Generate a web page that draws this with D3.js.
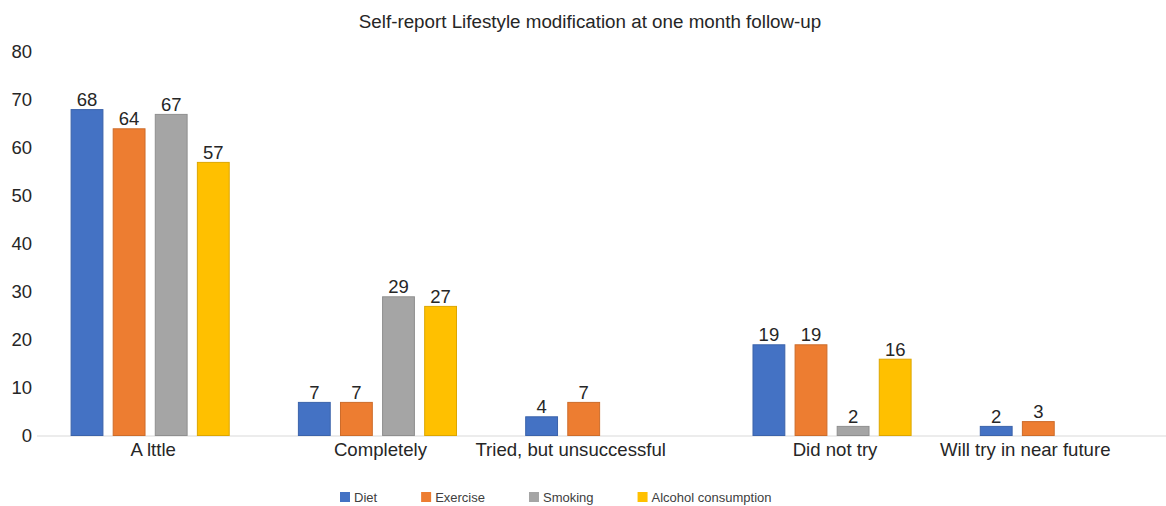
<!DOCTYPE html>
<html>
<head>
<meta charset="utf-8">
<script src="https://cdn.jsdelivr.net/npm/d3@7"></script>
<style>
  html, body { margin: 0; padding: 0; background: #ffffff; }
  svg { display: block; font-family: "Liberation Sans", Arial, sans-serif; }
</style>
</head>
<body>
<svg id="chart" width="1166" height="506"></svg>
<script>
const categories = ["A lttle", "Completely", "Tried, but unsuccessful", "Did not try", "Will try in near future"];
const seriesNames = ["Diet", "Exercise", "Smoking", "Alcohol consumption"];
const diet = [68, 7, 4, 19, 2];
const exercise = [64, 7, 7, 19, 3];
const smoking = [67, 29, null, 2, null];
const alcohol = [57, 27, null, 16, null];
const yTicks = [0, 10, 20, 30, 40, 50, 60, 70, 80];
const colors = ["#4472C4", "#ED7D31", "#A5A5A5", "#FFC000"];
const title = "Self-report Lifestyle modification at one month follow-up";

const seriesValues = [diet, exercise, smoking, alcohol];

const svg = d3.select("#chart");

const y = d3.scaleLinear().domain([0, 80]).range([435.5, 51.5]);
const x0 = d3.scaleBand().domain(categories).range([36.5, 1173])
  .paddingInner(0.3).paddingOuter(0.15);
const x1 = d3.scaleBand().domain(seriesNames).range([0, x0.bandwidth()])
  .paddingInner(0.22).paddingOuter(0);
const color = d3.scaleOrdinal().domain(seriesNames).range(colors);

// Title
svg.append("text")
  .attr("x", 590).attr("y", 28)
  .attr("text-anchor", "middle")
  .attr("font-size", 18.8)
  .attr("fill", "#262626")
  .text(title);

// Y axis labels
const yAxis = d3.axisLeft(y).tickValues(yTicks).tickSize(0).tickPadding(0);
const gy = svg.append("g").attr("transform", "translate(32,0)").call(yAxis);
gy.select(".domain").remove();
gy.selectAll("text")
  .attr("font-size", 18.5)
  .attr("font-family", "Liberation Sans, Arial, sans-serif")
  .attr("fill", "#262626");

// Baseline
svg.append("line")
  .attr("x1", 37).attr("x2", 1166)
  .attr("y1", y(0) + 0.5).attr("y2", y(0) + 0.5)
  .attr("stroke", "#d9d9d9").attr("stroke-width", 1.2);

// Bars
const rows = [];
categories.forEach((c, i) => {
  seriesNames.forEach((s, j) => {
    const v = seriesValues[j][i];
    if (v !== null && v !== undefined) rows.push({ cat: c, series: s, value: v });
  });
});

const gBars = svg.append("g");
gBars.selectAll("rect").data(rows).join("rect")
  .attr("x", d => x0(d.cat) + x1(d.series) + 0.5)
  .attr("y", d => y(d.value) + 0.5)
  .attr("width", x1.bandwidth() - 1)
  .attr("height", d => y(0) - y(d.value) - 0.5)
  .attr("fill", d => color(d.series))
  .attr("stroke", d => d3.color(color(d.series)).darker(0.4))
  .attr("stroke-width", 1);

// Value labels
gBars.selectAll("text.val").data(rows).join("text")
  .attr("class", "val")
  .attr("x", d => x0(d.cat) + x1(d.series) + x1.bandwidth() / 2)
  .attr("y", d => y(d.value) - 3)
  .attr("text-anchor", "middle")
  .attr("font-size", 18.5)
  .attr("fill", "#262626")
  .text(d => d.value);

// Category labels: centred on the bars present in each category
categories.forEach((c, i) => {
  const present = seriesNames.filter((s, j) => seriesValues[j][i] !== null);
  const left = x0(c) + x1(present[0]);
  const right = x0(c) + x1(present[present.length - 1]) + x1.bandwidth();
  const shift = present.length < seriesNames.length ? 8 : 3;
  svg.append("text")
    .attr("x", (left + right) / 2 + shift)
    .attr("y", 456)
    .attr("text-anchor", "middle")
    .attr("font-size", 18.6)
    .attr("fill", "#262626")
    .text(c);
});

// Legend
const legend = svg.append("g").attr("transform", "translate(340,497)");
let lx = 0;
seriesNames.forEach((s, j) => {
  const g = legend.append("g").attr("transform", `translate(${lx},0)`);
  g.append("rect").attr("x", 0).attr("y", -5).attr("width", 10).attr("height", 10)
    .attr("fill", colors[j]);
  const t = g.append("text").attr("x", 14).attr("y", 5)
    .attr("font-size", 13).attr("fill", "#404040").text(s);
  lx += 14 + t.node().getComputedTextLength() + 44;
});
</script>
</body>
</html>
